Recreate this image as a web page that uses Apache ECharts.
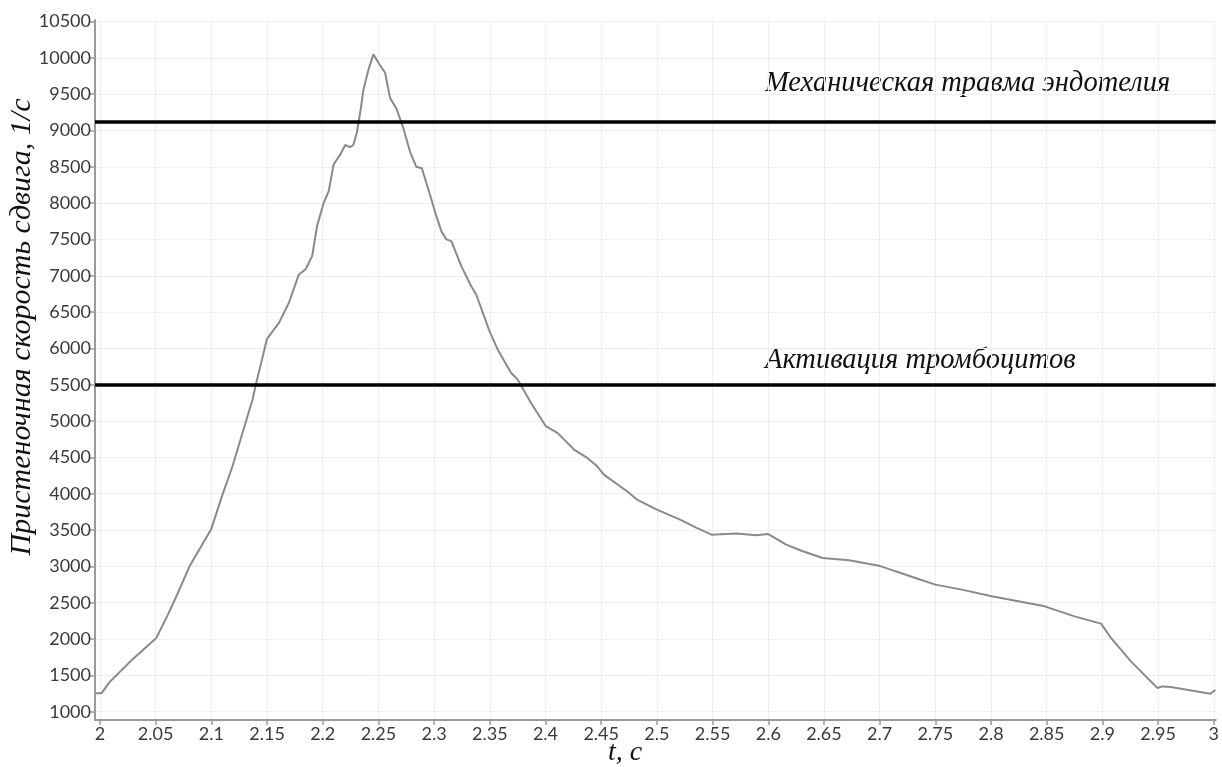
<!DOCTYPE html>
<html>
<head>
<meta charset="utf-8">
<script src="https://cdn.jsdelivr.net/npm/echarts@6/dist/echarts.min.js"></script>
<style>
html,body{margin:0;padding:0;background:#fff;}
#chart{width:1222px;height:767px;}
</style>
</head>
<body>
<div id="chart"></div>
<script>
// time, s
const tValues = [1.996, 2.0015, 2.0089, 2.0298, 2.0506, 2.061, 2.07, 2.0804, 2.0997, 2.110, 2.119, 2.128, 2.137, 2.140,
  2.150, 2.1607, 2.1696, 2.1786, 2.1845, 2.1905, 2.1949, 2.2009, 2.2054, 2.2098, 2.2158, 2.2202, 2.2245, 2.2275,
  2.2306, 2.2336, 2.2366, 2.2411, 2.2455, 2.250, 2.256, 2.2604, 2.2664, 2.272, 2.2785, 2.284, 2.289, 2.2976,
  2.302, 2.3065, 2.311, 2.3155, 2.3244, 2.3333, 2.3378, 2.3438, 2.3497, 2.3571, 2.369, 2.375, 2.3869, 2.4003,
  2.4107, 2.4256, 2.4375, 2.4464, 2.4524, 2.4732, 2.4821, 2.500, 2.5208, 2.5357, 2.5491, 2.5714, 2.5893, 2.5997,
  2.6161, 2.631, 2.6488, 2.6726, 2.6994, 2.7143, 2.7321, 2.750, 2.7738, 2.8006, 2.8244, 2.8482, 2.875, 2.8988,
  2.9077, 2.9256, 2.9494, 2.9539, 2.9613, 2.997, 3.0015];
// wall shear rate, 1/s
const shearValues = [1255, 1255, 1413, 1730, 2015, 2336, 2634, 3001, 3506, 3988, 4378, 4838, 5296, 5503,
  6132, 6352, 6628, 7018, 7086, 7270, 7683, 8005, 8165, 8532, 8670, 8800, 8770, 8800,
  8968, 9243, 9565, 9840, 10047, 9932, 9794, 9451, 9290, 9050, 8700, 8500, 8480, 8050,
  7820, 7614, 7500, 7476, 7132, 6856, 6742, 6490, 6237, 5985, 5664, 5572, 5251, 4929,
  4837, 4608, 4493, 4378, 4263, 4034, 3919, 3782, 3644, 3529, 3437, 3451, 3428, 3447,
  3300, 3208, 3116, 3083, 3010, 2932, 2841, 2749, 2680, 2588, 2519, 2450, 2312, 2212,
  2015, 1693, 1326, 1348, 1340, 1248, 1303];
// tick labels
const xTicks = [2, 2.05, 2.1, 2.15, 2.2, 2.25, 2.3, 2.35, 2.4, 2.45, 2.5, 2.55, 2.6, 2.65, 2.7, 2.75, 2.8, 2.85, 2.9, 2.95, 3];
const yTicks = [1000, 1500, 2000, 2500, 3000, 3500, 4000, 4500, 5000, 5500, 6000, 6500, 7000, 7500, 8000, 8500, 9000, 9500, 10000, 10500];
// threshold levels
const thresholdValues = [9125, 5500];
const thresholdLabels = ['Механическая травма эндотелия', 'Активация тромбоцитов'];
const xTitle = 't, c';
const yTitle = 'Пристеночная скорость сдвига, 1/с';

const chart = echarts.init(document.getElementById('chart'), null, {renderer: 'canvas'});
const serif = '"Liberation Serif", "DejaVu Serif", serif';
const sans = 'Lato, "Open Sans", sans-serif';

chart.setOption({
  animation: false,
  backgroundColor: '#ffffff',
  grid: {left: 95, right: 0, top: 20, bottom: 47, containLabel: false},
  xAxis: {
    type: 'value',
    min: 1.99554,
    max: 3.0018,
    axisLine: {show: true, lineStyle: {color: '#9a9a9a', width: 2}},
    axisTick: {show: true, length: 5, lineStyle: {color: '#9a9a9a', width: 1.5}, customValues: xTicks},
    axisLabel: {customValues: xTicks, color: '#3a3a3a', fontFamily: sans, fontSize: 18, margin: 5,
      formatter: v => String(+(+v).toFixed(2))},
    splitLine: {show: true, lineStyle: {color: '#efefef', width: 1}}
  },
  yAxis: {
    type: 'value',
    min: 885.7,
    max: 10520,
    axisLine: {show: true, lineStyle: {color: '#9a9a9a', width: 2}},
    axisTick: {show: true, length: 5, lineStyle: {color: '#9a9a9a', width: 1.5}, customValues: yTicks},
    axisLabel: {customValues: yTicks, color: '#3a3a3a', fontFamily: sans, fontSize: 18, margin: 4,
      formatter: v => String(Math.round(v))},
    splitLine: {show: true, lineStyle: {color: '#efefef', width: 1}}
  },
  series: [{
    type: 'line',
    data: tValues.map((t, i) => [t, shearValues[i]]),
    showSymbol: false,
    symbol: 'none',
    lineStyle: {color: '#8a8a8a', width: 2},
    z: 3,
    markLine: {
      silent: true,
      symbol: ['none', 'none'],
      label: {show: false},
      lineStyle: {color: '#000', width: 3.5, type: 'solid'},
      data: thresholdValues.map(v => ({yAxis: v}))
    }
  }],
  graphic: [
    {type: 'text', x: 765, y: 84, style: {text: thresholdLabels[0], font: 'italic 28.5px ' + serif, fill: '#111', align: 'left', verticalAlign: 'middle', textAlign: 'left', textVerticalAlign: 'middle'}},
    {type: 'text', x: 765, y: 361, style: {text: thresholdLabels[1], font: 'italic 28.5px ' + serif, fill: '#111', align: 'left', verticalAlign: 'middle', textAlign: 'left', textVerticalAlign: 'middle'}},
    {type: 'text', x: 625, y: 753, style: {text: xTitle, font: 'italic 28px ' + serif, fill: '#111', align: 'center', verticalAlign: 'middle', textAlign: 'center', textVerticalAlign: 'middle'}},
    {type: 'text', x: 22, y: 327, rotation: Math.PI / 2, style: {text: yTitle, font: 'italic 30px ' + serif, fill: '#111', align: 'center', verticalAlign: 'middle', textAlign: 'center', textVerticalAlign: 'middle'}}
  ]
});
</script>
</body>
</html>
